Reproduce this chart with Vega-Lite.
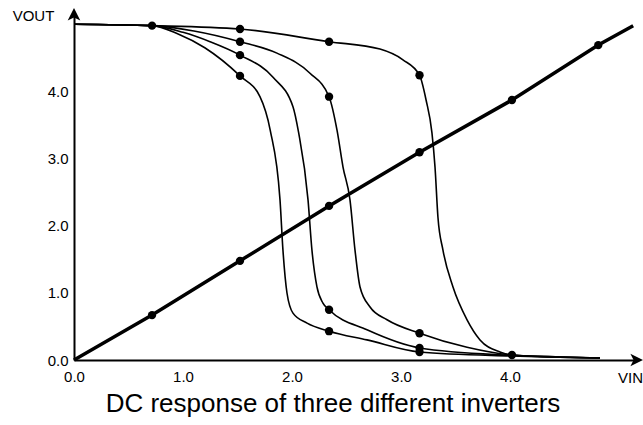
{
  "$schema": "https://vega.github.io/schema/vega-lite/v6.json",
  "width": 562,
  "height": 345,
  "autosize": {"type": "none"},
  "padding": {"left": 74, "top": 15, "right": 7, "bottom": 65},
  "background": "white",
  "config": {"view": {"stroke": null}, "font": "Liberation Sans"},
  "title": {
    "text": "DC response of three different inverters",
    "orient": "bottom",
    "anchor": "middle",
    "fontSize": 26,
    "fontWeight": "normal",
    "color": "black",
    "font": "Liberation Sans",
    "dx": -22,
    "offset": 6
  },
  "datasets": {
    "curves": [
      {"s": "A", "x": 0, "y": 5.01}, {"s": "A", "x": 0.716, "y": 4.99}, {"s": "A", "x": 1.523, "y": 4.94}, {"s": "A", "x": 2.34, "y": 4.75}, {"s": "A", "x": 2.807, "y": 4.64}, {"s": "A", "x": 3.018, "y": 4.48}, {"s": "A", "x": 3.17, "y": 4.25}, {"s": "A", "x": 3.23, "y": 3.88}, {"s": "A", "x": 3.284, "y": 3.39}, {"s": "A", "x": 3.312, "y": 2.88}, {"s": "A", "x": 3.339, "y": 2.13}, {"s": "A", "x": 3.385, "y": 1.64}, {"s": "A", "x": 3.477, "y": 1.09}, {"s": "A", "x": 3.606, "y": 0.6}, {"s": "A", "x": 3.725, "y": 0.3}, {"s": "A", "x": 3.908, "y": 0.12}, {"s": "A", "x": 4.018, "y": 0.075}, {"s": "A", "x": 4.46, "y": 0.045}, {"s": "A", "x": 4.826, "y": 0.03},
      {"s": "B", "x": 0, "y": 5.01}, {"s": "B", "x": 0.716, "y": 4.99}, {"s": "B", "x": 1.1, "y": 4.91}, {"s": "B", "x": 1.523, "y": 4.75}, {"s": "B", "x": 1.862, "y": 4.58}, {"s": "B", "x": 2.165, "y": 4.28}, {"s": "B", "x": 2.34, "y": 3.93}, {"s": "B", "x": 2.413, "y": 3.43}, {"s": "B", "x": 2.468, "y": 2.88}, {"s": "B", "x": 2.532, "y": 2.39}, {"s": "B", "x": 2.578, "y": 1.64}, {"s": "B", "x": 2.624, "y": 1.09}, {"s": "B", "x": 2.716, "y": 0.79}, {"s": "B", "x": 2.872, "y": 0.6}, {"s": "B", "x": 3.17, "y": 0.4}, {"s": "B", "x": 3.606, "y": 0.19}, {"s": "B", "x": 4.018, "y": 0.075}, {"s": "B", "x": 4.46, "y": 0.045}, {"s": "B", "x": 4.826, "y": 0.03},
      {"s": "C", "x": 0, "y": 5.01}, {"s": "C", "x": 0.716, "y": 4.99}, {"s": "C", "x": 1.0, "y": 4.89}, {"s": "C", "x": 1.248, "y": 4.75}, {"s": "C", "x": 1.523, "y": 4.55}, {"s": "C", "x": 1.826, "y": 4.22}, {"s": "C", "x": 2.009, "y": 3.78}, {"s": "C", "x": 2.06, "y": 3.4}, {"s": "C", "x": 2.147, "y": 2.39}, {"s": "C", "x": 2.183, "y": 1.64}, {"s": "C", "x": 2.229, "y": 1.09}, {"s": "C", "x": 2.284, "y": 0.85}, {"s": "C", "x": 2.34, "y": 0.75}, {"s": "C", "x": 2.688, "y": 0.45}, {"s": "C", "x": 3.17, "y": 0.18}, {"s": "C", "x": 4.018, "y": 0.07}, {"s": "C", "x": 4.46, "y": 0.04}, {"s": "C", "x": 4.826, "y": 0.03},
      {"s": "D", "x": 0, "y": 5.01}, {"s": "D", "x": 0.716, "y": 4.99}, {"s": "D", "x": 0.95, "y": 4.87}, {"s": "D", "x": 1.2, "y": 4.66}, {"s": "D", "x": 1.523, "y": 4.24}, {"s": "D", "x": 1.706, "y": 3.93}, {"s": "D", "x": 1.8, "y": 3.43}, {"s": "D", "x": 1.89, "y": 2.39}, {"s": "D", "x": 1.917, "y": 1.64}, {"s": "D", "x": 1.954, "y": 1.0}, {"s": "D", "x": 2.009, "y": 0.7}, {"s": "D", "x": 2.138, "y": 0.55}, {"s": "D", "x": 2.34, "y": 0.43}, {"s": "D", "x": 2.688, "y": 0.3}, {"s": "D", "x": 3.17, "y": 0.12}, {"s": "D", "x": 4.018, "y": 0.06}, {"s": "D", "x": 4.826, "y": 0.03}
    ],
    "diag": [
      {"x": 0, "y": 0}, {"x": 0.716, "y": 0.67}, {"x": 1.523, "y": 1.48}, {"x": 2.34, "y": 2.3}, {"x": 3.17, "y": 3.1}, {"x": 4.018, "y": 3.88}, {"x": 4.81, "y": 4.7}, {"x": 5.13, "y": 4.99}
    ],
    "dots": [
      {"x": 0.716, "y": 4.99}, {"x": 1.523, "y": 4.94}, {"x": 1.523, "y": 4.75}, {"x": 1.523, "y": 4.55}, {"x": 1.523, "y": 4.24},
      {"x": 2.34, "y": 4.75}, {"x": 2.34, "y": 3.93}, {"x": 2.34, "y": 0.75}, {"x": 2.34, "y": 0.43},
      {"x": 3.17, "y": 4.25}, {"x": 3.17, "y": 0.4}, {"x": 3.17, "y": 0.18}, {"x": 3.17, "y": 0.12},
      {"x": 4.018, "y": 0.075},
      {"x": 0.716, "y": 0.67}, {"x": 1.523, "y": 1.48}, {"x": 2.34, "y": 2.3}, {"x": 3.17, "y": 3.1}, {"x": 4.018, "y": 3.88}, {"x": 4.81, "y": 4.7}
    ],
    "arrows": [
      {"x": 0, "y": 5.149, "a": 0},
      {"x": 5.156, "y": 0, "a": 90}
    ]
  },
  "layer": [
    {
      "data": {"name": "curves"},
      "mark": {"type": "line", "interpolate": "monotone", "color": "black", "strokeWidth": 1.6},
      "encoding": {
        "x": {
          "field": "x", "type": "quantitative",
          "scale": {"domain": [0, 5.156], "nice": false, "zero": false},
          "axis": {
            "values": [0, 1, 2, 3, 4], "format": ".1f", "ticks": false, "grid": false,
            "domainColor": "black", "domainWidth": 2,
            "labelFontSize": 15, "labelColor": "black", "labelPadding": 9, "labelDx": 4,
            "labelOverlap": false, "labelBound": false, "labelFlush": false,
            "title": "VIN", "titleFontSize": 15, "titleFontWeight": "normal", "titleColor": "black",
            "titleAlign": "center", "titleBaseline": "middle", "titleX": 556, "titleY": 17
          }
        },
        "y": {
          "field": "y", "type": "quantitative",
          "scale": {"domain": [0, 5.149], "nice": false, "zero": false},
          "axis": {
            "values": [0, 1, 2, 3, 4], "format": ".1f", "ticks": false, "grid": false,
            "domainColor": "black", "domainWidth": 2,
            "labelFontSize": 15, "labelColor": "black", "labelPadding": 6, "labelDy": 3,
            "labelOverlap": false, "labelBound": false, "labelFlush": false,
            "title": "VOUT", "titleFontSize": 15, "titleFontWeight": "normal", "titleColor": "black",
            "titleAngle": 0, "titleAlign": "center", "titleBaseline": "middle", "titleX": -41, "titleY": 0
          }
        },
        "detail": {"field": "s"}
      }
    },
    {
      "data": {"name": "diag"},
      "mark": {"type": "line", "color": "black", "strokeWidth": 3.5},
      "encoding": {
        "x": {"field": "x", "type": "quantitative"},
        "y": {"field": "y", "type": "quantitative"}
      }
    },
    {
      "data": {"name": "dots"},
      "mark": {"type": "point", "filled": true, "color": "black", "opacity": 1, "size": 70},
      "encoding": {
        "x": {"field": "x", "type": "quantitative"},
        "y": {"field": "y", "type": "quantitative"}
      }
    },
    {
      "data": {"name": "arrows"},
      "mark": {"type": "point", "filled": true, "color": "black", "opacity": 1, "size": 196, "shape": "M0,-1L0.9,0.8L0,0.35L-0.9,0.8Z"},
      "encoding": {
        "x": {"field": "x", "type": "quantitative"},
        "y": {"field": "y", "type": "quantitative"},
        "angle": {"field": "a", "type": "quantitative", "scale": null}
      }
    }
  ]
}
